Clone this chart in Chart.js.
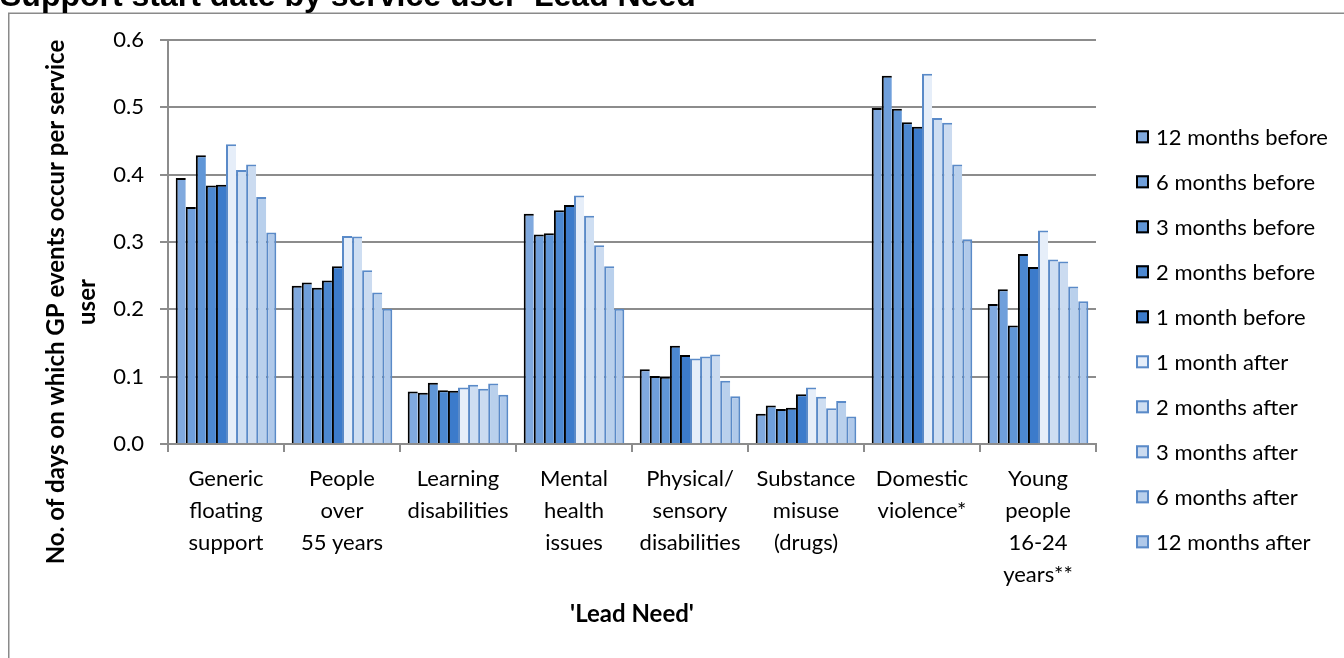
<!DOCTYPE html>
<html>
<head>
<meta charset="utf-8">
<title>GP events by Lead Need</title>
<script src="https://cdn.jsdelivr.net/npm/chart.js@4.4.1/dist/chart.umd.min.js"></script>
<style>
  html, body { margin: 0; padding: 0; background: #ffffff; overflow: hidden; }
  canvas { display: block; }
</style>
</head>
<body>
<canvas id="chart" width="1344" height="658"></canvas>
<script>
// Categories on the x axis (multi-line labels)
const categories = [
  ["Generic", "floating", "support"],
  ["People", "over", "55 years"],
  ["Learning", "disabilities"],
  ["Mental", "health", "issues"],
  ["Physical/", "sensory", "disabilities"],
  ["Substance", "misuse", "(drugs)"],
  ["Domestic", "violence*"],
  ["Young", "people", "16-24", "years**"]
];

const seriesNames = [
  "12 months before", "6 months before", "3 months before", "2 months before", "1 month before",
  "1 month after", "2 months after", "3 months after", "6 months after", "12 months after"
];

// Days with GP events per service user, per period
const before12 = [0.395, 0.235, 0.078, 0.342, 0.111, 0.045, 0.499, 0.208];
const before6  = [0.352, 0.240, 0.076, 0.311, 0.101, 0.057, 0.547, 0.230];
const before3  = [0.429, 0.232, 0.091, 0.313, 0.100, 0.052, 0.498, 0.176];
const before2  = [0.384, 0.243, 0.080, 0.347, 0.146, 0.054, 0.478, 0.282];
const before1  = [0.385, 0.264, 0.079, 0.355, 0.132, 0.074, 0.471, 0.263];
const after1   = [0.445, 0.309, 0.084, 0.369, 0.127, 0.084, 0.550, 0.317];
const after2   = [0.407, 0.308, 0.088, 0.339, 0.130, 0.070, 0.484, 0.274];
const after3   = [0.415, 0.258, 0.082, 0.295, 0.133, 0.053, 0.477, 0.271];
const after6   = [0.367, 0.225, 0.090, 0.264, 0.094, 0.064, 0.415, 0.234];
const after12  = [0.314, 0.201, 0.073, 0.201, 0.071, 0.041, 0.304, 0.212];

const seriesValues = [before12, before6, before3, before2, before1, after1, after2, after3, after6, after12];

// Y axis tick labels
const yTickLabels = ["0.0", "0.1", "0.2", "0.3", "0.4", "0.5", "0.6"];

const fillColors = ["#80a9de", "#6f9fdb", "#6096d7", "#4c88d1", "#3c7bcb",
                    "#e6eef9", "#cedef2", "#cbdbf0", "#b9d0ec", "#b0c9ea"];
const edgeColors = ["#000000", "#000000", "#000000", "#000000", "#000000",
                    "#5a8ac8", "#5a8ac8", "#5a8ac8", "#5a8ac8", "#5a8ac8"];

const FONT = "Lato";
const GRID = "#8c8c8c";

// Adjacent bars share one outline: each bar draws its left edge, the last one also its right edge
const lastIndex = seriesNames.length - 1;
const datasets = seriesNames.map((name, i) => ({
  label: name,
  data: seriesValues[i],
  backgroundColor: fillColors[i],
  borderColor: edgeColors[i],
  borderWidth: { top: 2, left: 2, right: i === lastIndex ? 2 : 0, bottom: 0 },
  inflateAmount: 0,
  categoryPercentage: 0.867,
  barPercentage: 1.0
}));

// Frame, heading, axis titles and legend drawn around the plot
const decorations = {
  id: "decorations",
  afterDraw(chart) {
    const ctx = chart.ctx;
    ctx.save();

    // outer frame
    ctx.strokeStyle = "#8a8a8a";
    ctx.lineWidth = 1.5;
    ctx.strokeRect(8.75, 13.25, 1400, 700);

    // heading above the frame
    ctx.fillStyle = "#000";
    ctx.font = "bold 32px 'Liberation Sans', Arial, sans-serif";
    ctx.textAlign = "left";
    ctx.textBaseline = "alphabetic";
    ctx.fillText("Support start date by service user 'Lead Need'", 0, 6);

    // y axis title (rotated, two lines)
    const area = chart.chartArea;
    ctx.save();
    ctx.translate(0, 302);
    ctx.rotate(-Math.PI / 2);
    ctx.font = "bold 24px " + FONT;
    ctx.textAlign = "center";
    ctx.fillText("No. of days on which GP events occur per service", 0, 64);
    ctx.fillText("user", 0, 95);
    ctx.restore();

    // x axis title
    ctx.font = "bold 24px " + FONT;
    ctx.textAlign = "center";
    ctx.textBaseline = "middle";
    ctx.fillText("'Lead Need'", (area.left + area.right) / 2, 614);

    // legend
    const boxX = 1136, firstY = 136.8, step = 45, box = 13;
    ctx.font = "22px " + FONT;
    ctx.textAlign = "left";
    ctx.textBaseline = "middle";
    chart.data.datasets.forEach((ds, i) => {
      const cy = firstY + i * step;
      ctx.fillStyle = ds.backgroundColor;
      ctx.fillRect(boxX, cy - box / 2, box, box);
      ctx.lineWidth = 2;
      ctx.strokeStyle = ds.borderColor;
      ctx.strokeRect(boxX + 1, cy - box / 2 + 1, box - 2, box - 2);
      ctx.fillStyle = "#000";
      ctx.fillText(ds.label, 1156, cy + 1);
    });

    ctx.restore();
  }
};

new Chart(document.getElementById("chart"), {
  type: "bar",
  data: { labels: categories, datasets: datasets },
  options: {
    responsive: false,
    animation: false,
    devicePixelRatio: 1,
    layout: { padding: { top: 40, left: 0, right: 248, bottom: 64 } },
    plugins: {
      legend: { display: false },
      tooltip: { enabled: false },
      title: { display: false }
    },
    scales: {
      x: {
        grid: { display: true, drawOnChartArea: false, drawTicks: true, tickLength: 8, color: GRID, lineWidth: 2, offset: true },
        border: { display: true, color: GRID, width: 2 },
        ticks: {
          color: "#000",
          font: { family: FONT, size: 22, lineHeight: 1.45 },
          padding: 11,
          maxRotation: 0,
          autoSkip: false
        },
        afterFit(scale) { scale.height = 150; }
      },
      y: {
        min: 0,
        max: 0.6,
        grid: { color: GRID, lineWidth: 2, tickLength: 8 },
        border: { display: true, color: GRID, width: 2 },
        ticks: {
          stepSize: 0.1,
          padding: 16,
          color: "#000",
          font: { family: FONT, size: 22 },
          callback: (value, index) => yTickLabels[index]
        },
        afterFit(scale) { scale.width = 168; }
      }
    }
  },
  plugins: [decorations]
});
</script>
</body>
</html>
